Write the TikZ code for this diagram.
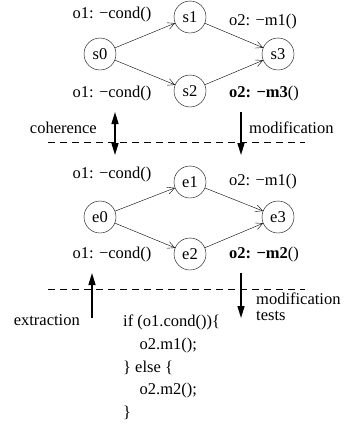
\documentclass[tikz,border=0pt]{standalone}
\usepackage{fontspec}
\setmainfont{Liberation Serif}
\usetikzlibrary{arrows.meta, positioning}

\begin{document}
\begin{tikzpicture}[
        x=1pt, y=-1pt,
        >={Straight Barb[length=7pt,width=7pt]},
        font=\fontsize{16.5}{21.5}\selectfont,
        state/.style={draw, circle, minimum size=32pt, inner sep=0pt},
        lbl/.style={inner sep=0pt, anchor=base},
        bigarrow/.style={line width=1.4pt, -{Triangle[length=12pt,width=7pt]}},
        sep/.style={dashed, dash pattern=on 7pt off 5pt},
    ]
    \useasboundingbox (0,0) rectangle (346,426);

    % Source graph
    \node[state] (s0) at (100,54) {s0};
    \node[state] (s1) at (190,17) {s1};
    \node[state] (s2) at (190,91) {s2};
    \node[state] (s3) at (278,54) {s3};

    \node[lbl] (s01) at (112,18) {o1: −cond()};
    \node[lbl] (s02) at (112,97) {o1: −cond()};
    \node[lbl] (s13) at (263,25) {o2: −m1()};
    \node[lbl] (s23) at (264,97) {\textbf{o2: −m3}()};

    \draw[->] (s0) -- (s1);
    \draw[->] (s0) -- (s2);
    \draw[->] (s1) -- (s3);
    \draw[->] (s2) -- (s3);

    % Between the graphs
    \coordinate (cohtop) at (115,112);
    \coordinate (cohbot) at (115,155);
    \coordinate (modtop) at (241,112);
    \coordinate (modbot) at (241,155);
    \draw[sep] (48,142) -- (305,142);
    \draw[bigarrow, {Triangle[length=12pt,width=7pt]}-{Triangle[length=12pt,width=7pt]}] (cohtop) -- (cohbot);
    \draw[bigarrow] (modtop) -- (modbot);
    \node[lbl, anchor=base east] (coh) at (97,133) {coherence};
    \node[lbl, anchor=base west] (mod) at (249,133) {modification};

    % Extracted graph
    \node[state] (e0) at (100,217) {e0};
    \node[state] (e1) at (190,182) {e1};
    \node[state] (e2) at (190,254) {e2};
    \node[state] (e3) at (278,217) {e3};

    \node[lbl] (e01) at (112,178) {o1: −cond()};
    \node[lbl] (e02) at (112,258) {o1: −cond()};
    \node[lbl] (e13) at (263,185) {o2: −m1()};
    \node[lbl] (e23) at (264,258) {\textbf{o2: −m2}()};

    \draw[->] (e0) -- (e1);
    \draw[->] (e0) -- (e2);
    \draw[->] (e1) -- (e3);
    \draw[->] (e2) -- (e3);

    % Between graph and code
    \coordinate (exttop) at (92,273);
    \coordinate (extbot) at (92,318);
    \coordinate (testop) at (241,273);
    \coordinate (tesbot) at (241,318);
    \draw[sep] (48,289) -- (305,289);
    \draw[bigarrow] (extbot) -- (exttop);
    \draw[bigarrow] (testop) -- (tesbot);
    \node[lbl, anchor=base east] (ext) at (80,325) {extraction};
    \node[lbl, anchor=base west] (tes1) at (256,304) {modification};
    \node[lbl, anchor=base west] (tes2) at (256,320) {tests};

    % Code
    \node[inner sep=0pt, anchor=north west, align=left,
          font=\fontsize{16.5}{22.7}\selectfont] (code) at (123,315)
        {if (o1.cond())\{\\ \quad o2.m1();\\ \} else \{\\ \quad o2.m2();\\ \}};
\end{tikzpicture}
\end{document}
